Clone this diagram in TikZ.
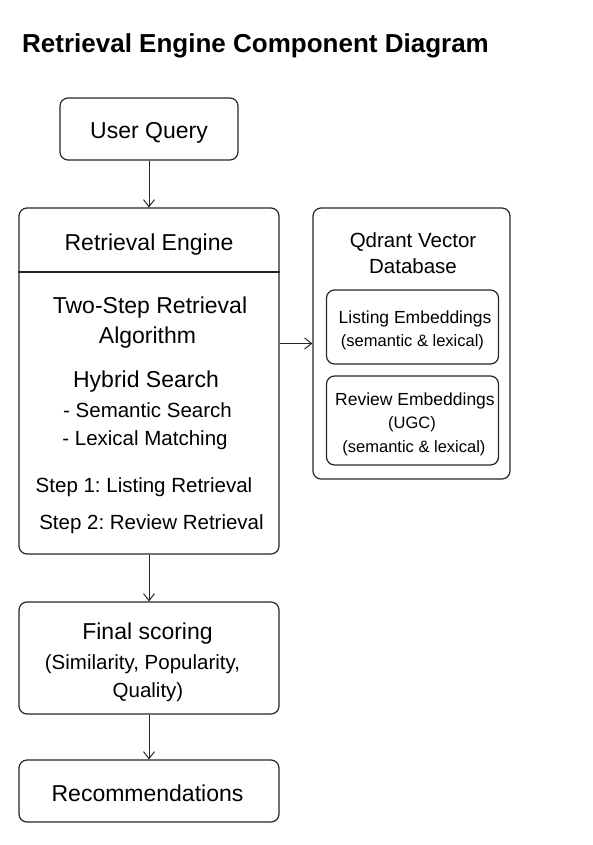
\documentclass[tikz,border=0pt]{standalone}
\usepackage{fontspec}
\setmainfont{Liberation Sans}
\usetikzlibrary{arrows.meta}
\frenchspacing

\begin{document}
\begin{tikzpicture}[x=1pt, y=-1pt,
		box/.style={draw=black!85, line width=1.2pt, rounded corners=8pt, inner sep=0pt},
		txt/.style={anchor=base, inner sep=0pt},
		big/.style={txt, font=\fontsize{23}{28}\selectfont},
		mid/.style={txt, font=\fontsize{20.5}{25}\selectfont},
		sml/.style={txt, font=\fontsize{17.5}{21}\selectfont},
		tny/.style={txt, font=\fontsize{16.5}{20}\selectfont},
		flow/.style={-{Straight Barb[length=7pt, width=11pt]}, line width=1pt, black!85}]
	\useasboundingbox (0,0) rectangle (592,845);
	\def\colx{149}
	\def\dbx{411.5}
	
	% Title
	\node[txt, anchor=base west, font=\bfseries\fontsize{26}{31}\selectfont] (title) at (22,53) {Retrieval Engine Component Diagram};
	
	% Boxes
	\node[box, minimum width=178pt, minimum height=62pt] (query) at (\colx,129) {};
	\node[box, minimum width=260pt, minimum height=346pt] (engine) at (\colx,381) {};
	\node[box, minimum width=197pt, minimum height=271pt] (qdrant) at (\dbx,343.5) {};
	\node[box, minimum width=172pt, minimum height=74pt] (listing) at (412.5,327) {};
	\node[box, minimum width=172pt, minimum height=89pt] (review) at (412.5,420.5) {};
	\node[box, minimum width=260pt, minimum height=112pt] (score) at (\colx,658) {};
	\node[box, minimum width=260pt, minimum height=62pt] (rec) at (\colx,791) {};
	
	\coordinate (div) at (\colx,272);
	\draw[line width=1.2pt, black!85] (engine.west |- div) -- (engine.east |- div);
	
	% Texts
	\node[big] (queryT) at (\colx,139) {User Query};
	\node[big] (engineT) at (\colx,250) {Retrieval Engine};
	\node[big] (algoA) at (150,313) {Two-Step Retrieval};
	\node[big] (algoB) at (147.5,343) {Algorithm};
	\node[big] (hybrid) at (146,387) {Hybrid Search};
	\node[mid] (semantic) at (147.5,417) {- Semantic Search};
	\node[mid] (lexical) at (145,445) {- Lexical Matching};
	\node[mid] (stepA) at (144,492) {Step 1: Listing Retrieval};
	\node[mid] (stepB) at (151.5,529) {Step 2: Review Retrieval};
	
	\node[mid] (dbA) at (413,247) {Qdrant Vector};
	\node[mid] (dbB) at (413,273) {Database};
	\node[sml] (listA) at (415,323) {Listing Embeddings};
	\node[tny] (listB) at (412.5,346) {(semantic \& lexical)};
	\node[sml] (revA) at (415,405) {Review Embeddings};
	\node[tny] (revB) at (412,428) {(UGC)};
	\node[tny] (revC) at (414,452) {(semantic \& lexical)};
	
	\node[big] (scoreA) at (147.5,639) {Final scoring};
	\node[mid] (scoreB) at (142.5,669) {(Similarity, Popularity,};
	\node[mid] (scoreC) at (148,697) {Quality)};
	\node[big] (recT) at (147.5,801) {Recommendations};
	
	% Connectors
	\draw[flow] (query) -- (engine);
	\draw[flow] (engine.east |- qdrant.west) -- (qdrant.west);
	\draw[flow] (engine) -- (score);
	\draw[flow] (score) -- (rec);
\end{tikzpicture}
\end{document}
